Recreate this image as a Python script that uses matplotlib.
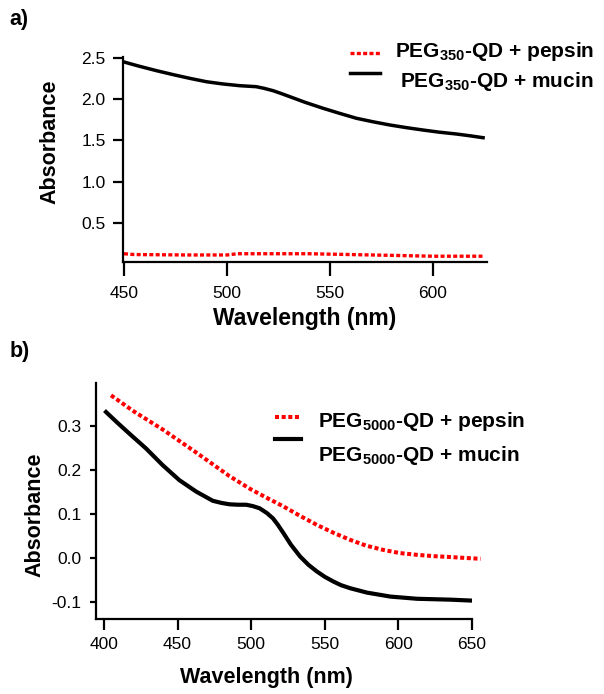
import matplotlib
matplotlib.use('Agg')
import matplotlib.pyplot as plt
from matplotlib.lines import Line2D
from matplotlib.ticker import FormatStrFormatter, FixedLocator

plt.rcParams['font.family'] = ['Liberation Sans', 'DejaVu Sans']
plt.rcParams['mathtext.fontset'] = 'custom'
plt.rcParams['mathtext.rm'] = 'Liberation Sans'
plt.rcParams['mathtext.bf'] = 'Liberation Sans:bold'
plt.rcParams['axes.unicode_minus'] = False

# ---------------- data ----------------
# panel a
a_mucin_wl = [449.5, 457, 465.7, 474, 481.9, 490, 498, 506.2, 514.2, 518, 522.3, 526, 530.4, 538,
              546.6, 555, 562.8, 571, 579, 587, 595.1, 603, 611.3, 618, 624.3]
a_mucin_abs = [2.452, 2.40, 2.344, 2.295, 2.251, 2.21, 2.183, 2.162, 2.150, 2.130, 2.102, 2.07, 2.03, 1.96,
               1.889, 1.825, 1.768, 1.725, 1.687, 1.655, 1.626, 1.60, 1.578, 1.556, 1.533]
a_pepsin_wl = [450, 455, 480, 500, 505, 540, 560, 580, 600, 624]
a_pepsin_abs = [0.13, 0.12, 0.115, 0.115, 0.13, 0.13, 0.12, 0.11, 0.10, 0.10]
a_xticks = [450, 500, 550, 600]
a_yticks = [0.5, 1.0, 1.5, 2.0, 2.5]

# panel b
b_mucin_wl = [401.4, 409, 417.2, 428.6, 439.9, 451.2, 462.6, 473.9, 480, 485.3, 491, 496.6, 501, 505.7,
              510.7, 514.8, 518, 522, 527, 533.3, 539, 544.7, 550, 556, 561, 567.3, 578.7, 594.6,
              612.7, 635.4, 649]
b_mucin_abs = [0.332, 0.308, 0.283, 0.249, 0.211, 0.177, 0.151, 0.130, 0.125, 0.122, 0.121, 0.121, 0.118, 0.113,
               0.102, 0.090, 0.076, 0.056, 0.030, 0.003, -0.016, -0.031, -0.043, -0.054, -0.062, -0.069, -0.079,
               -0.088, -0.093, -0.095, -0.097]
b_pepsin_wl = [404.8, 420, 440, 462.6, 485.3, 499.3, 511, 522, 533, 544.7, 556, 567.3, 578, 590, 601,
               612.7, 624, 635.4, 645, 655.8]
b_pepsin_abs = [0.370, 0.334, 0.292, 0.240, 0.186, 0.157, 0.136, 0.117, 0.096, 0.075, 0.057, 0.041, 0.028,
                0.018, 0.011, 0.007, 0.004, 0.002, 0.000, -0.002]
b_xticks = [400, 450, 500, 550, 600, 650]
b_yticks = [-0.1, 0.0, 0.1, 0.2, 0.3]

a_labels = [r'PEG$_{\mathbf{350}}$-QD + pepsin', r'PEG$_{\mathbf{350}}$-QD + mucin']
b_labels = [r'PEG$_{\mathbf{5000}}$-QD + pepsin', r'PEG$_{\mathbf{5000}}$-QD + mucin']

RED = '#ff0000'
DOT = (0, (1.2, 0.7))
DOT_B = (0, (1.0, 0.65))

W, H = 604, 694
fig = plt.figure(figsize=(W / 100, H / 100), dpi=100)


def fx(x):
    return x / W


def fy(y):
    return 1 - y / H


def style(ax, xlen, ylen, xpad, ypad):
    for s in ['top', 'right']:
        ax.spines[s].set_visible(False)
    for s in ['left', 'bottom']:
        ax.spines[s].set_linewidth(1.6)
    ax.tick_params(axis='x', direction='out', length=xlen, width=1.6, pad=xpad, labelsize=12.5)
    ax.tick_params(axis='y', direction='out', length=ylen, width=1.6, pad=ypad, labelsize=12.5)
    ax.patch.set_visible(False)


# ---------------- panel a ----------------
axa = fig.add_axes([fx(123), fy(262), fx(364), 205 / H])
axa.plot(a_pepsin_wl, a_pepsin_abs, color=RED, lw=2.4, ls=DOT)
axa.plot(a_mucin_wl, a_mucin_abs, color='black', lw=2.5, solid_joinstyle='round')
axa.set_xlim(449.5, 626.2)
axa.set_ylim(0.03, 2.509)
axa.xaxis.set_major_locator(FixedLocator(a_xticks))
axa.yaxis.set_major_locator(FixedLocator(a_yticks))
axa.yaxis.set_major_formatter(FormatStrFormatter('%.1f'))
style(axa, 10, 7.5, 7, 5)

# ---------------- panel b ----------------
axb = fig.add_axes([fx(96), fy(619), fx(376), 236 / H])
axb.plot(b_pepsin_wl, b_pepsin_abs, color=RED, lw=2.9, ls=DOT_B, clip_on=False)
axb.plot(b_mucin_wl, b_mucin_abs, color='black', lw=3.0, solid_joinstyle='round')
axb.set_xlim(394.6, 650)
axb.set_ylim(-0.139, 0.398)
axb.xaxis.set_major_locator(FixedLocator(b_xticks))
axb.yaxis.set_major_locator(FixedLocator(b_yticks))
axb.yaxis.set_major_formatter(FormatStrFormatter('%.1f'))
style(axb, 8, 4.5, 5, 6)

# ---------------- legends (manual) ----------------
fig.add_artist(Line2D([fx(350), fx(380)], [fy(53), fy(53)], color=RED, lw=2.4, ls=DOT))
fig.add_artist(Line2D([fx(350), fx(380)], [fy(73), fy(73)], color='black', lw=2.5))
fig.text(fx(395), fy(57), a_labels[0], fontsize=15, fontweight='bold', ha='left', va='baseline')
fig.text(fx(400), fy(87), a_labels[1], fontsize=15, fontweight='bold', ha='left', va='baseline')

fig.add_artist(Line2D([fx(275), fx(301)], [fy(417), fy(417)], color=RED, lw=2.9, ls=DOT_B))
fig.add_artist(Line2D([fx(275), fx(301)], [fy(439), fy(439)], color='black', lw=3.0))
fig.text(fx(318), fy(427), b_labels[0], fontsize=15, fontweight='bold', ha='left', va='baseline')
fig.text(fx(318), fy(461), b_labels[1], fontsize=15, fontweight='bold', ha='left', va='baseline')

# ---------------- axis labels ----------------
fig.text(fx(49.5), fy(141.5), 'Absorbance', fontsize=15.5, fontweight='bold', rotation=90, ha='center', va='center')
fig.text(fx(305), fy(318), 'Wavelength (nm)', fontsize=16.5, fontweight='bold', ha='center', va='center')
fig.text(fx(35), fy(515), 'Absorbance', fontsize=15.5, fontweight='bold', rotation=90, ha='center', va='center')
fig.text(fx(266.5), fy(677), 'Wavelength (nm)', fontsize=15.5, fontweight='bold', ha='center', va='center')

# panel letters
fig.text(fx(19), fy(19), 'a)', fontsize=15.5, fontweight='bold', ha='center', va='center')
fig.text(fx(20), fy(351), 'b)', fontsize=15.5, fontweight='bold', ha='center', va='center')

fig.savefig('out.png', dpi=100)
